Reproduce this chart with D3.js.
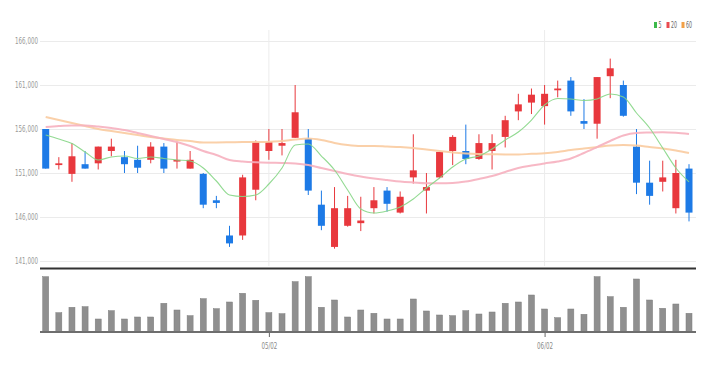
<!DOCTYPE html>
<html lang="en">
<head>
    <meta charset="UTF-8">
    <title>Candles</title>
    <script src="https://d3js.org/d3.v7.min.js"></script>
    <style>
        body {margin: 0; background: #fff}
        text {
            font-family: 'Liberation Sans Narrow', 'DejaVu Sans Condensed', 'Liberation Sans', sans-serif;
        }
    </style>
</head>
<body>
<script>
    const width  = 710;
    const height = 373;

    // trading days shown
    const dates = ["04/06","04/07","04/10","04/11","04/12","04/13","04/14","04/17","04/18","04/19",
                   "04/20","04/21","04/24","04/25","04/26","04/27","04/28","05/02","05/03","05/04",
                   "05/08","05/09","05/10","05/11","05/12","05/15","05/16","05/17","05/18","05/19",
                   "05/22","05/23","05/24","05/25","05/26","05/30","05/31","06/01","06/02","06/05",
                   "06/07","06/08","06/09","06/12","06/13","06/14","06/15","06/16","06/19","06/20"];
    const tickDates = ["05/02", "06/02"];
    const priceTicks = [141000, 146000, 151000, 156000, 161000, 166000];

    const open  = [156000,151900,150900,152000,152100,153500,152800,152500,152500,154000,
                   152300,151500,150900,147900,143900,143900,149100,153500,154100,155000,
                   154900,147400,142600,145000,145300,147000,149000,146500,150500,149000,
                   150500,153500,153500,152600,153500,155100,158000,159000,158600,160400,
                   161500,156900,156600,162000,161000,154000,149900,150000,147000,151500];
    const high  = [156000,152800,154400,153500,154000,154900,153500,154100,154500,154400,
                   154500,153500,151000,148400,145000,150800,154700,156000,156000,161000,
                   156000,149000,149400,148400,148300,149400,149400,148900,155400,151000,
                   153400,155300,156500,155400,155400,157500,160000,160600,161000,161500,
                   161900,159400,161900,164000,161500,156000,152400,152400,152500,152000];
    const low   = [151500,151400,150000,151500,151400,152900,151000,151000,152100,151000,
                   151500,151500,147000,147000,142600,143400,147900,152500,153000,155000,
                   148500,144500,142400,144900,144400,146400,146600,146400,149800,146400,
                   150400,151900,152000,152500,151400,153900,157000,157700,156500,159600,
                   157500,156000,154900,159500,157400,148600,147400,148900,146400,145500];
    const close = [151500,152100,152900,151500,154000,154000,152000,151600,154000,151500,
                   152500,152500,147400,147600,143000,150500,154500,154500,154400,157900,
                   149000,145000,147000,147000,145600,147900,147500,148300,151300,149400,
                   153400,155100,152600,154400,154400,157000,158800,159900,160000,160600,
                   158000,156600,161900,162900,157500,149900,148400,150500,151000,146500];

    const ma5  = [155320,154860,154350,153390,152480,152820,152930,152650,152820,152650,
                  152480,152360,151570,150090,148500,148330,148500,149750,151570,154180,
                  154300,152930,151340,149070,146910,146450,146680,147140,148050,149300,
                  150430,151680,152590,152930,153730,154750,155660,157020,158730,159470,
                  159410,159240,159410,159980,159640,157820,156110,153840,151570,149980];
    const ma20 = [156230,156340,156400,156400,156280,156110,155890,155550,155200,154860,
                  154520,154070,153500,153050,152480,152310,152220,152170,152140,152080,
                  151910,151570,151230,150890,150600,150380,150200,150030,149920,149830,
                  149830,149860,150030,150320,150660,151110,151570,151850,152080,152310,
                  152650,153270,153950,154640,155260,155550,155600,155630,155570,155430];
    const ma60 = [157360,157020,156680,156340,156000,155770,155550,155320,155090,154920,
                  154750,154640,154470,154470,154490,154520,154520,154560,154640,154810,
                  154920,154750,154410,154180,154070,154070,154010,153950,153840,153670,
                  153500,153330,153220,153160,153130,153100,153100,153180,153240,153390,
                  153610,153780,153950,154120,154180,154120,153950,153780,153560,153270];

    const volume = [550000,190000,244000,250000,127000,210000,127000,147000,147000,284000,
                    217000,160000,330000,230000,297000,384000,314000,190000,180000,500000,
                    550000,244000,317000,147000,217000,184000,127000,127000,327000,207000,
                    167000,160000,210000,177000,197000,284000,297000,367000,227000,140000,
                    227000,174000,550000,350000,244000,527000,317000,234000,277000,184000];

    const maSeries = [
        {name: "5",  values: ma5,  color: "#86d686", legend: "#3cb94a", w: 1.1},
        {name: "20", values: ma20, color: "#f6b0bf", legend: "#ea4a50", w: 2},
        {name: "60", values: ma60, color: "#f9cba0", legend: "#f2a047", w: 2}
    ];

    const upColor = "#e8383d";
    const downColor = "#1d7ae6";

    const left = 40, right = 696;

    const x = d3.scalePoint()
        .domain(dates)
        .range([45.7, 689]);

    const y = d3.scaleLinear()
        .domain([141000, 166000])
        .range([261, 41]);

    const yVol = d3.scaleLinear()
        .domain([0, d3.max(volume)])
        .range([331.7, 276.7]);

    const svg = d3.select("body")
        .append("svg")
        .attr("width", width)
        .attr("height", height);

    // price grid + labels
    const yAxis = svg.append("g")
        .attr("transform", `translate(${left},0)`)
        .call(d3.axisLeft(y)
            .tickValues(priceTicks)
            .tickFormat(d3.format(","))
            .tickSize(-(right - left))
            .tickPadding(2));
    yAxis.select(".domain").remove();
    yAxis.selectAll(".tick line").attr("stroke", "#ebebeb");
    yAxis.selectAll(".tick text")
        .attr("fill", "#9a9a9a")
        .attr("textLength", 23)
        .attr("lengthAdjust", "spacingAndGlyphs")
        .style("font-size", "9px");

    // vertical grid at month ticks
    svg.append("g")
        .selectAll("line")
        .data(tickDates)
        .join("line")
        .attr("x1", d => x(d)).attr("x2", d => x(d))
        .attr("y1", 30).attr("y2", 266)
        .attr("stroke", "#ececec");

    // candles
    const idx = d3.range(dates.length);
    const candle = svg.append("g")
        .selectAll("g")
        .data(idx)
        .join("g")
        .attr("fill", i => close[i] >= open[i] ? upColor : downColor)
        .attr("stroke", i => close[i] >= open[i] ? upColor : downColor);

    candle.append("line")
        .attr("x1", i => x(dates[i])).attr("x2", i => x(dates[i]))
        .attr("y1", i => y(high[i])).attr("y2", i => y(low[i]))
        .attr("stroke-width", 1);

    candle.append("rect")
        .attr("x", i => x(dates[i]) - 3.5)
        .attr("width", 7)
        .attr("y", i => y(Math.max(open[i], close[i])))
        .attr("height", i => Math.max(1.5, Math.abs(y(open[i]) - y(close[i]))))
        .attr("stroke", "none");

    // moving averages
    const line = d3.line()
        .x((d, i) => x(dates[i]))
        .y(d => y(d))
        .curve(d3.curveMonotoneX);

    svg.append("g")
        .selectAll("path")
        .data(maSeries.slice().reverse())
        .join("path")
        .attr("d", d => line(d.values))
        .attr("fill", "none")
        .attr("stroke", d => d.color)
        .attr("stroke-width", d => d.w)
        .attr("opacity", 0.9);

    // legend
    const legend = svg.append("g")
        .attr("transform", "translate(654,22)");
    const legendX = [0, 12.5, 27.5];
    const lg = legend.selectAll("g")
        .data(maSeries)
        .join("g")
        .attr("transform", (d, i) => `translate(${legendX[i]},0)`);
    lg.append("rect")
        .attr("width", 3).attr("height", 6)
        .attr("fill", d => d.legend);
    lg.append("text")
        .attr("x", 4.5).attr("y", 6)
        .attr("fill", "#666")
        .attr("textLength", d => d.name.length * 3)
        .attr("lengthAdjust", "spacingAndGlyphs")
        .style("font-size", "8px")
        .text(d => d.name);

    // volume panel
    svg.append("line")
        .attr("x1", left).attr("x2", right)
        .attr("y1", 268.5).attr("y2", 268.5)
        .attr("stroke", "#333").attr("stroke-width", 2);

    svg.append("g")
        .selectAll("rect")
        .data(idx)
        .join("rect")
        .attr("x", i => x(dates[i]) - 3)
        .attr("width", 6)
        .attr("y", i => yVol(volume[i]))
        .attr("height", i => yVol(0) - yVol(volume[i]))
        .attr("fill", "#8f8f8f")
        .attr("stroke", "#7d7d7d")
        .attr("stroke-width", 0.5);

    const xAxis = svg.append("g")
        .attr("transform", "translate(0,332)")
        .call(d3.axisBottom(x)
            .tickValues(tickDates)
            .tickSize(5)
            .tickPadding(5));
    xAxis.select(".domain").remove();
    xAxis.selectAll(".tick line").attr("stroke", "#666");
    xAxis.selectAll(".tick text")
        .attr("fill", "#8a8a8a")
        .attr("textLength", 16)
        .attr("lengthAdjust", "spacingAndGlyphs")
        .style("font-size", "9.5px");

    svg.append("line")
        .attr("x1", left).attr("x2", right)
        .attr("y1", 332).attr("y2", 332)
        .attr("stroke", "#6e6e6e").attr("stroke-width", 2);
</script>
</body>
</html>
